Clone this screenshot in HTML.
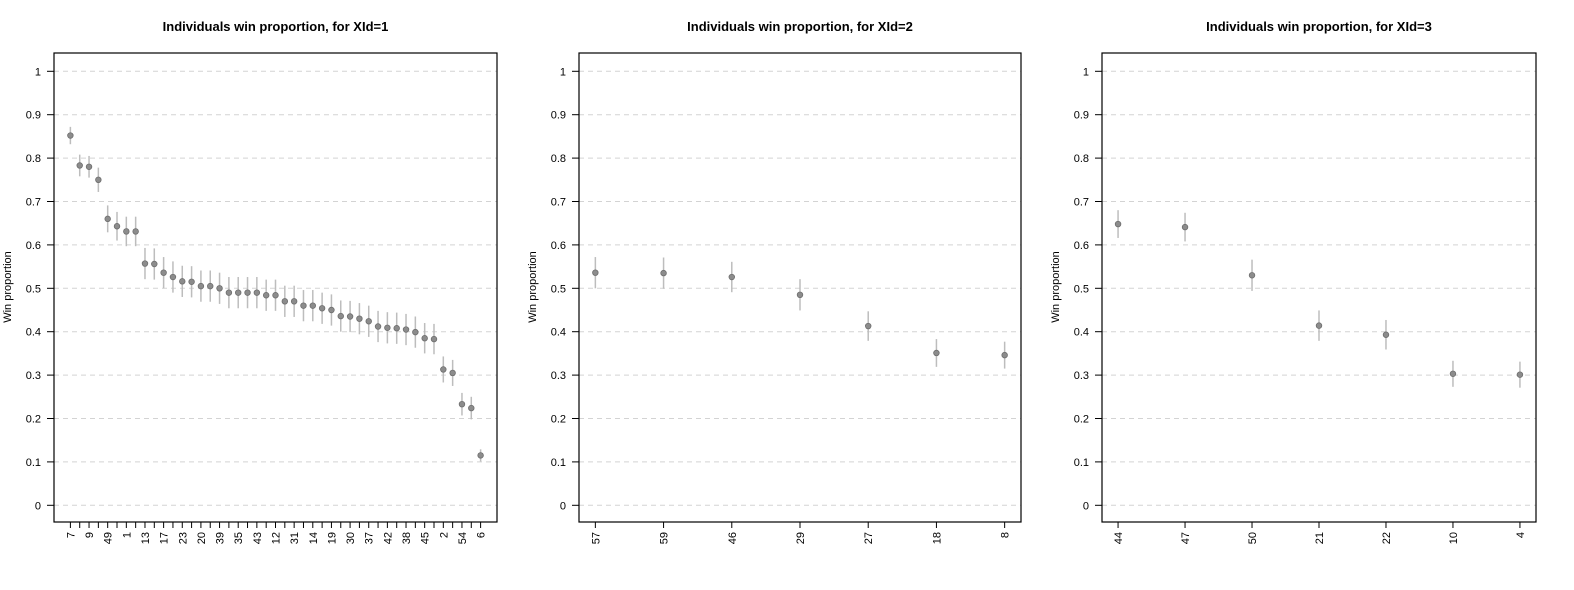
<!DOCTYPE html>
<html><head><meta charset="utf-8">
<style>
html,body{margin:0;padding:0;background:#fff;}
svg{display:block;font-family:"Liberation Sans",Arial,sans-serif;}
</style></head>
<body>
<svg id="chart" width="1574" height="590" viewBox="0 0 1574 590" xmlns="http://www.w3.org/2000/svg"></svg>
<script>
// Panel 1 (XId=1)
const labels1 = ["7","3","9","5","49","11","1","15","13","16","17","24","23","25","20","26","39","28","35","32","43","33","12","34","31","36","14","40","19","41","30","48","37","51","42","52","38","53","45","55","2","56","54","58","6"];
const values1 = [0.852,0.783,0.780,0.750,0.660,0.643,0.631,0.631,0.557,0.556,0.536,0.526,0.516,0.515,0.505,0.505,0.500,0.490,0.490,0.490,0.490,0.484,0.484,0.470,0.470,0.460,0.460,0.454,0.450,0.436,0.435,0.430,0.424,0.412,0.409,0.408,0.405,0.399,0.385,0.383,0.313,0.305,0.233,0.224,0.115];
const errors1 = [0.020,0.025,0.025,0.028,0.031,0.033,0.034,0.034,0.036,0.036,0.036,0.036,0.036,0.036,0.036,0.036,0.036,0.036,0.036,0.036,0.036,0.036,0.036,0.036,0.036,0.036,0.036,0.036,0.036,0.036,0.036,0.036,0.036,0.036,0.036,0.036,0.036,0.036,0.035,0.035,0.030,0.030,0.026,0.026,0.014];
// Panel 2 (XId=2)
const labels2 = ["57","59","46","29","27","18","8"];
const values2 = [0.536,0.535,0.526,0.485,0.413,0.351,0.346];
const errors2 = [0.036,0.036,0.035,0.036,0.034,0.032,0.031];
// Panel 3 (XId=3)
const labels3 = ["44","47","50","21","22","10","4"];
const values3 = [0.648,0.641,0.530,0.414,0.393,0.303,0.301];
const errors3 = [0.032,0.033,0.036,0.035,0.034,0.030,0.030];
const yTicks = [0,0.1,0.2,0.3,0.4,0.5,0.6,0.7,0.8,0.9,1];
const yTickLabels = ["0","0.1","0.2","0.3","0.4","0.5","0.6","0.7","0.8","0.9","1"];

const NS = "http://www.w3.org/2000/svg";
const svgRoot = document.getElementById('chart');
function mk(tag, attrs, parent){
  const e = document.createElementNS(NS, tag);
  for (const k in attrs) e.setAttribute(k, attrs[k]);
  (parent||svgRoot).appendChild(e);
  return e;
}
const plotTop = 53, plotBottom = 522;
function yScale(v){ return 505.3 - v*434; }

function panel(idx, left, right, labels, values, errors, everyOther){
  const g = mk('g', {});
  
  
  const n = values.length;
  const pad = (right-left)*0.037;
  function xScale(i){ return n===1 ? (left+right)/2 : left+pad + i*((right-left-2*pad)/(n-1)); }
  const t = mk('text', {x:(left+right)/2, y:31, 'text-anchor':'middle', 'font-size':'13', 'font-weight':'bold', fill:'#000'}, g);
  t.textContent = 'Individuals win proportion, for XId=' + idx;
  
  
  yTicks.forEach((v,i)=>{
    const y = yScale(v);
    const gl = mk('line', {x1:left, x2:right, y1:y, y2:y, stroke:'#d3d3d3', 'stroke-width':1, 'stroke-dasharray':'5,4'}, g);
    
    
    mk('line', {x1:left-7, x2:left, y1:y, y2:y, stroke:'#000', 'stroke-width':1}, g);
    const tl = mk('text', {x:left-13, y:y+4, 'text-anchor':'end', 'font-size':'11', fill:'#000'}, g);
    tl.textContent = yTickLabels[i];
    
    
  });
  const yt = mk('text', {x:0, y:0, transform:`translate(${left-43},287) rotate(-90)`, 'text-anchor':'middle', 'font-size':'11', fill:'#000'}, g);
  yt.textContent = 'Win proportion';
  
  
  labels.forEach((lab,i)=>{
    const x = xScale(i);
    mk('line', {x1:x, x2:x, y1:plotBottom, y2:plotBottom+6, stroke:'#000', 'stroke-width':1}, g);
    if (!everyOther || i%2===0){
      const xl = mk('text', {x:0, y:0, transform:`translate(${x+4},${plotBottom+10}) rotate(-90)`, 'text-anchor':'end', 'font-size':'11', fill:'#000'}, g);
      xl.textContent = lab;
      
      
    }
  });
  values.forEach((v,i)=>{
    const x = xScale(i);
    const eb = mk('line', {x1:x, x2:x, y1:yScale(v+errors[i]), y2:yScale(v-errors[i]), stroke:'#bdbdbd', 'stroke-width':1.5}, g);
    
    
    const c = mk('circle', {cx:x, cy:yScale(v), r:2.8, fill:'#8c8c8c', stroke:'#6e6e6e', 'stroke-width':0.8}, g);
    
    
  });
  const box = mk('rect', {x:left, y:plotTop, width:right-left, height:plotBottom-plotTop, fill:'none', stroke:'#000', 'stroke-width':1.2}, g);
  
  
}
panel(1, 54, 497, labels1, values1, errors1, true);
panel(2, 579, 1021, labels2, values2, errors2, false);
panel(3, 1102, 1536, labels3, values3, errors3, false);
</script>
</body></html>
